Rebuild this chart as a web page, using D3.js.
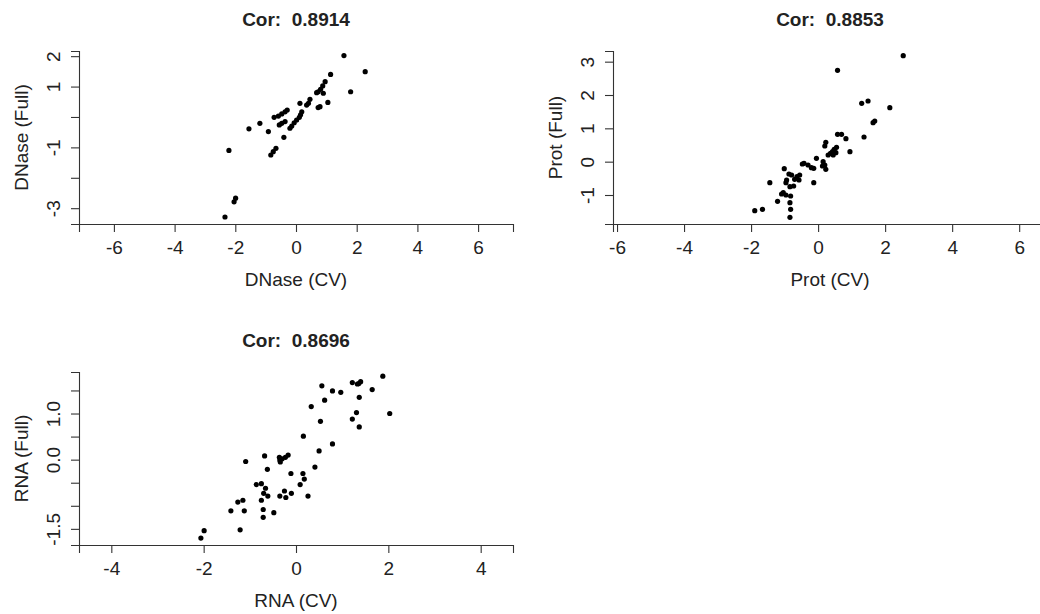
<!DOCTYPE html>
<html>
<head>
<meta charset="utf-8">
<script src="https://cdn.jsdelivr.net/npm/d3@7"></script>
<style>
  body { margin: 0; background: #fff; }
  svg { display: block; font-family: "Liberation Sans", Arial, sans-serif; }
  text { white-space: pre; }
</style>
</head>
<body>
<svg id="viz_area" width="1040" height="614"></svg>
<script>
// values (CV vs full model predictions)
const dnaseCV   = [1.58, 2.28, 1.14, 1.80, 0.96, 0.88, 0.81, 0.73, 0.68, 0.90, 1.05, 0.73, 0.79, 0.46, 0.41, 0.35, 0.13, 0.19, 0.15, 0.11, 0.02, -0.06, -0.14, -0.20, -0.29, -0.36, -0.47, -0.58, -0.72, -0.36, -0.47, -0.55, -0.40, -0.91, -1.19, -1.55, -0.66, -0.75, -0.83, -2.21, -1.99, -2.04, -2.34]
const dnaseFull = [2.02, 1.49, 1.40, 0.83, 1.16, 1.02, 0.91, 0.83, 0.80, 0.78, 0.48, 0.31, 0.34, 0.58, 0.45, 0.39, 0.45, 0.17, 0.07, -0.01, -0.10, -0.19, -0.30, -0.37, 0.23, 0.17, 0.10, 0.03, -0.01, -0.15, -0.21, -0.26, -0.67, -0.48, -0.21, -0.39, -1.03, -1.14, -1.25, -1.10, -2.67, -2.79, -3.29]

const protCV   = [2.54, 0.58, 1.30, 1.49, 2.14, 1.69, 1.64, 1.37, 0.58, 0.70, 0.83, 0.95, 0.23, 0.20, 0.55, 0.48, 0.43, 0.37, 0.30, 0.53, 0.45, 0.15, 0.20, 0.23, 0.13, -0.05, -0.13, -0.20, -0.30, -0.42, -0.47, -0.13, -0.55, -0.63, -0.57, -0.70, -0.79, -0.87, -0.73, -1.01, -0.94, -0.96, -0.84, -1.44, -1.04, -1.09, -0.96, -0.82, -1.21, -0.84, -0.82, -0.84, -1.89, -1.66]
const protFull = [3.18, 2.74, 1.75, 1.82, 1.62, 1.22, 1.17, 0.74, 0.82, 0.82, 0.69, 0.30, 0.58, 0.47, 0.43, 0.37, 0.30, 0.25, 0.20, 0.27, 0.20, 0.00, -0.10, -0.23, -0.13, 0.10, -0.20, -0.18, -0.10, -0.05, -0.07, -0.63, -0.40, -0.45, -0.55, -0.53, -0.40, -0.37, -0.73, -0.21, -0.55, -0.63, -0.75, -0.63, -0.93, -0.97, -1.00, -1.03, -1.19, -1.23, -1.43, -1.67, -1.47, -1.43]

const rnaCV   = [1.88, 2.03, 1.65, 1.40, 1.36, 1.33, 1.22, 1.37, 1.31, 1.22, 1.37, 0.97, 0.79, 0.56, 0.62, 0.33, 0.53, 0.79, 0.50, 0.16, 0.41, 0.15, 0.18, 0.09, 0.26, -0.11, -0.17, -0.23, -0.30, -0.35, -0.36, -0.34, -0.68, -0.62, -1.09, -0.86, -0.75, -0.66, -0.70, -0.61, -0.75, -0.25, -0.35, -0.22, -0.10, -0.71, -0.71, -0.48, -1.26, -1.15, -1.12, -1.41, -1.21, -1.99, -2.06]
const rnaFull = [1.81, 1.00, 1.52, 1.69, 1.65, 1.64, 1.67, 1.35, 1.02, 0.88, 0.71, 1.46, 1.49, 1.60, 1.29, 1.15, 0.83, 0.34, 0.19, 0.51, -0.16, -0.30, -0.42, -0.54, -0.79, -0.30, 0.10, 0.05, 0.02, -0.01, 0.05, -0.05, 0.08, -0.21, -0.04, -0.54, -0.52, -0.62, -0.73, -0.79, -0.88, -0.68, -0.79, -0.82, -0.73, -1.08, -1.25, -1.15, -0.92, -0.88, -1.11, -1.11, -1.52, -1.54, -1.70]

const titles = ["Cor:  0.8914", "Cor:  0.8853", "Cor:  0.8696"]
const xLabels = ["DNase (CV)", "Prot (CV)", "RNA (CV)"]
const yLabels = ["DNase (Full)", "Prot (Full)", "RNA (Full)"]

const dnaseTicksX = [-6, -4, -2, 0, 2, 4, 6]
const dnaseTicksY = [-3, -2, -1, 0, 1, 2]
const dnaseShownY = [-3, -1, 1, 2]
const protTicksX = [-6, -4, -2, 0, 2, 4, 6]
const protTicksY = [-1, 0, 1, 2, 3]
const protShownY = [-1, 0, 1, 2, 3]
const rnaTicksX = [-4, -2, 0, 2, 4]
const rnaTicksY = [-1.5, -1, -0.5, 0, 0.5, 1, 1.5]
const rnaShownY = [-1.5, 0, 1]

// R prints a plain hyphen, not the unicode minus d3 uses
function plain(f) { return function (d) { return f(d).replace("\u2212", "-") } }

// panel layout (plot regions in px)
var panels = [
  { x: dnaseCV, y: dnaseFull, title: titles[0], xlab: xLabels[0], ylab: yLabels[0],
    left: 79, right: 513, top: 51, bottom: 224, xdom: [-7.15, 7.15], ydom: [-3.52, 2.17],
    ticksX: dnaseTicksX, ticksY: dnaseTicksY, shownY: dnaseShownY, fmt: plain(d3.format("d")) },
  { x: protCV, y: protFull, title: titles[1], xlab: xLabels[1], ylab: yLabels[1],
    left: 613, right: 1047, top: 51, bottom: 224, xdom: [-6.12, 6.83], ydom: [-1.87, 3.32],
    ticksX: protTicksX, ticksY: protTicksY, shownY: protShownY, fmt: plain(d3.format("d")) },
  { x: rnaCV, y: rnaFull, title: titles[2], xlab: xLabels[2], ylab: yLabels[2],
    left: 79, right: 513, top: 372, bottom: 545, xdom: [-4.70, 4.70], ydom: [-1.85, 1.90],
    ticksX: rnaTicksX, ticksY: rnaTicksY, shownY: rnaShownY, fmt: plain(d3.format(".1f")) }
]

var svg = d3.select("#viz_area")
var ink = "#222"

panels.forEach(function (p) {
  var x = d3.scaleLinear().domain(p.xdom).range([p.left, p.right])
  var y = d3.scaleLinear().domain(p.ydom).range([p.bottom, p.top])
  var g = svg.append("g")

  // x axis
  var gx = g.append("g").attr("transform", "translate(0," + p.bottom + ")")
    .call(d3.axisBottom(x).tickValues(p.ticksX).tickSizeOuter(0).tickSize(8).tickPadding(9)
      .tickFormat(plain(d3.format("d"))))
  // y axis
  var gy = g.append("g").attr("transform", "translate(" + p.left + ",0)")
    .call(d3.axisLeft(y).tickValues(p.ticksY).tickSizeOuter(0).tickSize(8)
      .tickFormat(function (d) { return p.shownY.indexOf(d) >= 0 ? p.fmt(d) : "" }))

  gy.selectAll(".tick text")
    .attr("transform", "rotate(-90)")
    .attr("x", 0).attr("y", -19).attr("dy", null)
    .attr("text-anchor", "middle")

  ;[gx, gy].forEach(function (a) {
    a.selectAll("path, line").attr("stroke", "#333").attr("stroke-width", 1.1)
    a.selectAll("text").attr("fill", ink).style("font-size", "19px")
      .style("font-family", '"Liberation Sans", Arial, sans-serif')
  })

  var cx = (p.left + p.right) / 2
  var cy = (p.top + p.bottom) / 2

  g.append("text").attr("x", cx).attr("y", p.top - 25)
    .attr("text-anchor", "middle").attr("font-weight", "bold")
    .attr("font-size", 19).attr("fill", ink).text(p.title)

  g.append("text").attr("x", cx).attr("y", p.bottom + 62)
    .attr("text-anchor", "middle").attr("font-size", 19).attr("fill", ink).text(p.xlab)

  g.append("text").attr("transform", "translate(" + (p.left - 51) + "," + cy + ") rotate(-90)")
    .attr("text-anchor", "middle").attr("font-size", 19).attr("fill", ink).text(p.ylab)

  g.append("g").selectAll("circle")
    .data(p.x.map(function (v, i) { return [v, p.y[i]] }))
    .join("circle")
    .attr("cx", function (d) { return x(d[0]) })
    .attr("cy", function (d) { return y(d[1]) })
    .attr("r", 2.6)
    .attr("fill", "#000")
})
</script>
</body>
</html>
